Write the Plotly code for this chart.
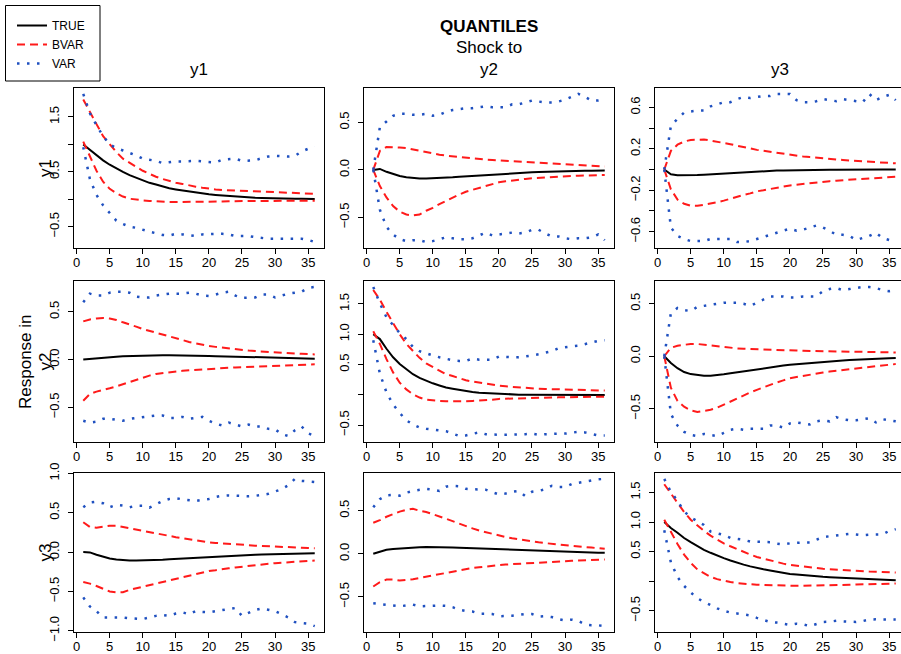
import plotly.graph_objects as go

# ---------------- data ----------------
horizon = list(range(1, 37))

# panel (row i = response, col j = shock)
true_11 = [1.00,0.90,0.80,0.71,0.63,0.56,0.50,0.44,0.39,0.34,0.30,0.27,0.23,0.20,0.18,0.16,0.14,0.12,0.10,0.09,0.08,0.07,0.06,0.05,0.04,0.035,0.03,0.025,0.02,0.018,0.015,0.012,0.01,0.01,0.008,0.007]
bvar_hi_11 = [1.82,1.58,1.37,1.15,1.00,0.86,0.74,0.66,0.59,0.52,0.46,0.41,0.37,0.33,0.30,0.28,0.25,0.23,0.21,0.19,0.18,0.17,0.165,0.155,0.15,0.145,0.14,0.135,0.13,0.13,0.12,0.115,0.11,0.105,0.10,0.10]
bvar_lo_11 = [1.05,0.79,0.52,0.32,0.19,0.11,0.05,0.01,-0.01,-0.02,-0.03,-0.04,-0.045,-0.05,-0.05,-0.05,-0.05,-0.045,-0.045,-0.04,-0.04,-0.04,-0.035,-0.035,-0.035,-0.03,-0.03,-0.03,-0.03,-0.03,-0.03,-0.03,-0.025,-0.025,-0.025,-0.025]
var_hi_11 = [1.92,1.57,1.35,1.15,1.00,0.93,0.89,0.85,0.80,0.74,0.72,0.70,0.66,0.68,0.69,0.69,0.70,0.70,0.69,0.68,0.67,0.72,0.73,0.74,0.70,0.70,0.71,0.75,0.78,0.79,0.78,0.78,0.79,0.87,0.92,0.96]
var_lo_11 = [0.95,0.37,0.08,-0.11,-0.25,-0.39,-0.45,-0.50,-0.52,-0.56,-0.59,-0.62,-0.65,-0.66,-0.63,-0.64,-0.65,-0.67,-0.64,-0.63,-0.63,-0.63,-0.64,-0.67,-0.67,-0.67,-0.69,-0.71,-0.72,-0.72,-0.72,-0.71,-0.71,-0.72,-0.74,-0.78]

true_12 = [0,0.01,-0.02,-0.045,-0.065,-0.078,-0.086,-0.09,-0.09,-0.089,-0.087,-0.083,-0.078,-0.073,-0.068,-0.063,-0.058,-0.053,-0.048,-0.044,-0.040,-0.036,-0.032,-0.029,-0.026,-0.023,-0.020,-0.018,-0.016,-0.014,-0.012,-0.010,-0.009,-0.008,-0.007,-0.006]
bvar_hi_12 = [0,0.20,0.24,0.24,0.235,0.23,0.215,0.20,0.185,0.17,0.16,0.15,0.142,0.134,0.127,0.12,0.114,0.108,0.104,0.10,0.095,0.09,0.085,0.08,0.075,0.071,0.067,0.063,0.059,0.055,0.052,0.049,0.045,0.042,0.038,0.035]
bvar_lo_12 = [0,-0.17,-0.29,-0.38,-0.44,-0.47,-0.48,-0.47,-0.43,-0.40,-0.36,-0.325,-0.29,-0.26,-0.23,-0.21,-0.19,-0.166,-0.15,-0.13,-0.12,-0.11,-0.10,-0.095,-0.088,-0.083,-0.078,-0.074,-0.07,-0.067,-0.064,-0.061,-0.059,-0.057,-0.055,-0.053]
var_hi_12 = [0,0.45,0.51,0.57,0.59,0.59,0.58,0.58,0.59,0.57,0.58,0.61,0.63,0.64,0.65,0.65,0.66,0.67,0.66,0.66,0.66,0.69,0.69,0.71,0.73,0.72,0.71,0.71,0.72,0.74,0.77,0.80,0.77,0.73,0.73,0.74]
var_lo_12 = [0,-0.42,-0.60,-0.68,-0.73,-0.75,-0.74,-0.74,-0.76,-0.75,-0.73,-0.71,-0.72,-0.73,-0.73,-0.72,-0.69,-0.66,-0.69,-0.68,-0.67,-0.66,-0.67,-0.66,-0.63,-0.63,-0.67,-0.70,-0.70,-0.72,-0.73,-0.72,-0.72,-0.71,-0.68,-0.74]

true_13 = [0,-0.045,-0.055,-0.056,-0.055,-0.052,-0.049,-0.045,-0.041,-0.036,-0.032,-0.028,-0.024,-0.021,-0.018,-0.015,-0.012,-0.01,-0.008,-0.006,-0.005,-0.004,-0.003,-0.002,-0.002,-0.001,-0.001,0,0,0,0,0,0,0,0,0]
bvar_hi_13 = [0,0.18,0.24,0.27,0.286,0.29,0.29,0.28,0.27,0.257,0.245,0.23,0.22,0.205,0.19,0.18,0.17,0.16,0.15,0.14,0.133,0.126,0.12,0.113,0.107,0.102,0.097,0.092,0.087,0.083,0.079,0.075,0.071,0.067,0.063,0.06]
bvar_lo_13 = [0,-0.19,-0.29,-0.33,-0.35,-0.35,-0.34,-0.33,-0.315,-0.30,-0.28,-0.26,-0.245,-0.23,-0.21,-0.2,-0.186,-0.175,-0.164,-0.153,-0.145,-0.138,-0.13,-0.124,-0.117,-0.112,-0.107,-0.103,-0.098,-0.094,-0.09,-0.086,-0.082,-0.078,-0.074,-0.07]
var_hi_13 = [0,0.42,0.49,0.55,0.56,0.57,0.57,0.61,0.63,0.65,0.65,0.68,0.70,0.69,0.70,0.71,0.71,0.73,0.73,0.73,0.67,0.65,0.65,0.66,0.68,0.67,0.66,0.68,0.67,0.66,0.65,0.73,0.67,0.70,0.72,0.67]
var_lo_13 = [0,-0.56,-0.64,-0.67,-0.69,-0.69,-0.69,-0.67,-0.67,-0.67,-0.67,-0.70,-0.70,-0.69,-0.67,-0.65,-0.63,-0.61,-0.59,-0.57,-0.59,-0.58,-0.56,-0.54,-0.56,-0.59,-0.63,-0.63,-0.64,-0.68,-0.66,-0.64,-0.61,-0.66,-0.68,-0.70]

true_21 = [0,0.007,0.014,0.02,0.025,0.03,0.034,0.037,0.04,0.042,0.043,0.044,0.045,0.045,0.045,0.044,0.043,0.042,0.04,0.038,0.036,0.034,0.032,0.03,0.028,0.026,0.024,0.022,0.02,0.018,0.016,0.014,0.013,0.012,0.011,0.01]
bvar_hi_21 = [0.40,0.42,0.43,0.435,0.43,0.415,0.39,0.37,0.345,0.32,0.30,0.285,0.265,0.245,0.225,0.205,0.185,0.17,0.155,0.143,0.133,0.124,0.115,0.107,0.10,0.094,0.089,0.084,0.079,0.075,0.071,0.067,0.063,0.06,0.057,0.054]
bvar_lo_21 = [-0.43,-0.36,-0.335,-0.32,-0.30,-0.28,-0.257,-0.23,-0.207,-0.186,-0.168,-0.15,-0.14,-0.132,-0.125,-0.118,-0.112,-0.107,-0.101,-0.096,-0.092,-0.089,-0.086,-0.082,-0.079,-0.076,-0.073,-0.07,-0.067,-0.064,-0.062,-0.06,-0.057,-0.055,-0.052,-0.05]
var_hi_21 = [0.60,0.69,0.67,0.67,0.70,0.71,0.71,0.70,0.66,0.65,0.65,0.67,0.68,0.69,0.69,0.69,0.70,0.69,0.67,0.665,0.68,0.70,0.71,0.67,0.645,0.645,0.65,0.68,0.68,0.65,0.67,0.69,0.70,0.71,0.75,0.76]
var_lo_21 = [-0.64,-0.66,-0.65,-0.62,-0.62,-0.63,-0.64,-0.62,-0.61,-0.60,-0.59,-0.585,-0.585,-0.61,-0.61,-0.60,-0.62,-0.61,-0.60,-0.64,-0.67,-0.69,-0.66,-0.68,-0.70,-0.68,-0.70,-0.70,-0.725,-0.73,-0.78,-0.80,-0.74,-0.70,-0.77,-0.80]

true_22 = [1.0,0.92,0.76,0.62,0.51,0.42,0.34,0.28,0.23,0.19,0.155,0.12,0.10,0.08,0.06,0.045,0.035,0.028,0.02,0.012,0.008,0.005,0.003,0.001,0,-0.001,-0.002,-0.003,-0.003,-0.004,-0.004,-0.004,-0.004,-0.004,-0.004,-0.004]
bvar_hi_22 = [1.73,1.57,1.37,1.18,1.0,0.84,0.72,0.61,0.52,0.46,0.40,0.34,0.31,0.27,0.24,0.22,0.20,0.18,0.165,0.15,0.14,0.13,0.12,0.11,0.105,0.10,0.097,0.094,0.092,0.09,0.087,0.084,0.081,0.078,0.074,0.07]
bvar_lo_22 = [1.05,0.84,0.59,0.37,0.20,0.09,0.01,-0.045,-0.08,-0.095,-0.10,-0.105,-0.107,-0.107,-0.105,-0.10,-0.097,-0.09,-0.08,-0.067,-0.063,-0.06,-0.056,-0.053,-0.05,-0.048,-0.046,-0.044,-0.042,-0.04,-0.038,-0.036,-0.034,-0.032,-0.031,-0.03]
var_hi_22 = [1.78,1.51,1.28,1.14,1.02,0.92,0.79,0.72,0.68,0.65,0.62,0.59,0.57,0.56,0.56,0.60,0.58,0.58,0.58,0.63,0.62,0.62,0.62,0.63,0.65,0.67,0.69,0.72,0.77,0.79,0.80,0.81,0.84,0.87,0.89,0.90]
var_lo_22 = [0.90,0.35,0.04,-0.16,-0.30,-0.42,-0.49,-0.54,-0.56,-0.57,-0.58,-0.60,-0.64,-0.68,-0.67,-0.65,-0.62,-0.65,-0.66,-0.66,-0.66,-0.66,-0.66,-0.65,-0.64,-0.66,-0.65,-0.64,-0.64,-0.64,-0.63,-0.61,-0.62,-0.64,-0.67,-0.67]

true_23 = [0,-0.065,-0.114,-0.15,-0.17,-0.18,-0.185,-0.185,-0.182,-0.172,-0.163,-0.153,-0.143,-0.133,-0.123,-0.114,-0.105,-0.097,-0.089,-0.081,-0.075,-0.069,-0.063,-0.057,-0.052,-0.048,-0.044,-0.040,-0.036,-0.032,-0.029,-0.026,-0.023,-0.021,-0.018,-0.016]
bvar_hi_23 = [0,0.08,0.10,0.11,0.117,0.117,0.11,0.10,0.092,0.084,0.079,0.075,0.071,0.068,0.065,0.063,0.061,0.059,0.057,0.055,0.054,0.052,0.051,0.05,0.049,0.048,0.046,0.045,0.043,0.042,0.041,0.04,0.039,0.038,0.037,0.036]
bvar_lo_23 = [0,-0.30,-0.425,-0.48,-0.515,-0.53,-0.52,-0.51,-0.49,-0.46,-0.43,-0.40,-0.37,-0.345,-0.32,-0.295,-0.27,-0.25,-0.23,-0.21,-0.198,-0.186,-0.175,-0.165,-0.155,-0.146,-0.138,-0.13,-0.122,-0.114,-0.107,-0.1,-0.094,-0.088,-0.081,-0.075]
var_hi_23 = [0,0.41,0.46,0.44,0.43,0.47,0.48,0.49,0.50,0.51,0.51,0.51,0.50,0.48,0.51,0.54,0.57,0.57,0.57,0.56,0.56,0.57,0.57,0.57,0.62,0.64,0.65,0.63,0.64,0.65,0.66,0.66,0.65,0.63,0.62,0.63]
var_lo_23 = [0,-0.55,-0.66,-0.72,-0.75,-0.76,-0.74,-0.75,-0.76,-0.73,-0.70,-0.69,-0.70,-0.69,-0.69,-0.69,-0.66,-0.66,-0.68,-0.64,-0.63,-0.64,-0.65,-0.62,-0.61,-0.62,-0.58,-0.60,-0.61,-0.61,-0.60,-0.59,-0.63,-0.60,-0.61,-0.62]

true_31 = [0,-0.004,-0.034,-0.06,-0.08,-0.094,-0.103,-0.107,-0.108,-0.107,-0.104,-0.1,-0.096,-0.091,-0.086,-0.081,-0.076,-0.07,-0.065,-0.06,-0.056,-0.052,-0.048,-0.044,-0.04,-0.037,-0.034,-0.031,-0.028,-0.025,-0.022,-0.02,-0.018,-0.016,-0.014,-0.013]
bvar_hi_31 = [0.38,0.32,0.31,0.32,0.335,0.335,0.32,0.30,0.287,0.274,0.257,0.24,0.223,0.206,0.19,0.175,0.162,0.15,0.137,0.124,0.117,0.11,0.103,0.097,0.09,0.086,0.082,0.078,0.073,0.068,0.065,0.062,0.059,0.056,0.053,0.05]
bvar_lo_31 = [-0.38,-0.40,-0.43,-0.47,-0.50,-0.51,-0.51,-0.48,-0.46,-0.44,-0.42,-0.40,-0.38,-0.36,-0.34,-0.32,-0.30,-0.28,-0.26,-0.24,-0.23,-0.215,-0.205,-0.195,-0.184,-0.175,-0.166,-0.157,-0.148,-0.14,-0.134,-0.128,-0.122,-0.117,-0.112,-0.107]
var_hi_31 = [0.57,0.63,0.64,0.62,0.57,0.60,0.59,0.57,0.59,0.59,0.565,0.61,0.65,0.675,0.685,0.67,0.66,0.65,0.665,0.675,0.70,0.715,0.72,0.715,0.71,0.71,0.715,0.725,0.74,0.77,0.80,0.85,0.93,0.905,0.895,0.89]
var_lo_31 = [-0.575,-0.69,-0.75,-0.83,-0.83,-0.83,-0.83,-0.84,-0.845,-0.85,-0.83,-0.81,-0.80,-0.81,-0.78,-0.765,-0.79,-0.75,-0.76,-0.765,-0.75,-0.735,-0.72,-0.71,-0.81,-0.77,-0.735,-0.715,-0.73,-0.75,-0.79,-0.83,-0.89,-0.90,-0.91,-0.94]

true_32 = [0,0.027,0.047,0.056,0.063,0.068,0.072,0.076,0.078,0.078,0.077,0.075,0.072,0.069,0.066,0.063,0.06,0.057,0.054,0.05,0.047,0.044,0.041,0.038,0.035,0.032,0.03,0.027,0.025,0.023,0.021,0.019,0.017,0.015,0.013,0.012]
bvar_hi_32 = [0.36,0.39,0.43,0.46,0.49,0.51,0.523,0.50,0.485,0.46,0.435,0.41,0.38,0.35,0.32,0.295,0.27,0.25,0.23,0.21,0.195,0.18,0.167,0.155,0.143,0.133,0.124,0.115,0.107,0.1,0.093,0.086,0.079,0.072,0.065,0.058]
bvar_lo_32 = [-0.38,-0.33,-0.30,-0.30,-0.31,-0.306,-0.295,-0.28,-0.265,-0.25,-0.233,-0.217,-0.202,-0.188,-0.174,-0.165,-0.156,-0.147,-0.138,-0.13,-0.125,-0.12,-0.115,-0.11,-0.105,-0.1,-0.096,-0.092,-0.088,-0.085,-0.082,-0.079,-0.076,-0.072,-0.069,-0.066]
var_hi_32 = [0.54,0.635,0.68,0.685,0.675,0.71,0.73,0.745,0.755,0.745,0.73,0.78,0.79,0.785,0.755,0.75,0.75,0.745,0.715,0.69,0.70,0.72,0.73,0.67,0.72,0.73,0.75,0.79,0.775,0.775,0.81,0.825,0.84,0.85,0.865,0.87]
var_lo_32 = [-0.575,-0.585,-0.59,-0.60,-0.61,-0.60,-0.59,-0.61,-0.605,-0.60,-0.60,-0.605,-0.62,-0.65,-0.665,-0.67,-0.695,-0.695,-0.70,-0.725,-0.725,-0.72,-0.71,-0.70,-0.70,-0.73,-0.725,-0.735,-0.76,-0.775,-0.765,-0.78,-0.82,-0.83,-0.83,-0.84]

true_33 = [1.0,0.90,0.82,0.73,0.66,0.59,0.53,0.48,0.43,0.39,0.35,0.31,0.28,0.25,0.22,0.20,0.18,0.157,0.14,0.123,0.112,0.10,0.09,0.081,0.073,0.066,0.06,0.054,0.049,0.045,0.04,0.036,0.032,0.026,0.021,0.017]
bvar_hi_33 = [1.64,1.48,1.32,1.17,1.04,0.94,0.85,0.77,0.70,0.64,0.59,0.54,0.49,0.45,0.41,0.38,0.35,0.32,0.297,0.275,0.26,0.245,0.232,0.22,0.21,0.202,0.194,0.186,0.178,0.17,0.166,0.162,0.158,0.154,0.15,0.146]
bvar_lo_33 = [1.04,0.83,0.63,0.45,0.31,0.20,0.13,0.073,0.035,0.006,-0.015,-0.034,-0.045,-0.053,-0.06,-0.065,-0.07,-0.073,-0.076,-0.078,-0.078,-0.078,-0.077,-0.075,-0.073,-0.07,-0.067,-0.064,-0.06,-0.056,-0.053,-0.05,-0.047,-0.045,-0.042,-0.04]
var_hi_33 = [1.73,1.51,1.36,1.18,1.08,1.01,0.95,0.84,0.81,0.78,0.73,0.72,0.70,0.67,0.67,0.67,0.66,0.635,0.62,0.64,0.65,0.655,0.655,0.70,0.745,0.76,0.77,0.785,0.80,0.79,0.775,0.785,0.79,0.79,0.85,0.88]
var_lo_33 = [0.86,0.32,0.07,-0.08,-0.19,-0.29,-0.35,-0.41,-0.46,-0.50,-0.53,-0.545,-0.56,-0.58,-0.62,-0.66,-0.69,-0.70,-0.72,-0.74,-0.72,-0.73,-0.76,-0.72,-0.69,-0.685,-0.67,-0.68,-0.69,-0.69,-0.675,-0.65,-0.645,-0.645,-0.65,-0.65]

# tick values / labels
x_ticks = [0, 5, 10, 15, 20, 25, 30, 35]
yt_11 = [-0.5, 0, 0.5, 1.0, 1.5];            yl_11 = ["−0.5", "", "0.5", "", "1.5"]
yt_12 = [-0.5, 0, 0.5];                      yl_12 = ["−0.5", "0.0", "0.5"]
yt_13 = [-0.6, -0.4, -0.2, 0, 0.2, 0.4, 0.6]; yl_13 = ["−0.6", "", "−0.2", "", "0.2", "", "0.6"]
yt_21 = [-0.5, 0, 0.5];                      yl_21 = ["−0.5", "0.0", "0.5"]
yt_22 = [-0.5, 0, 0.5, 1.0, 1.5];            yl_22 = ["−0.5", "", "0.5", "1.0", "1.5"]
yt_23 = [-0.5, 0, 0.5];                      yl_23 = ["−0.5", "0.0", "0.5"]
yt_31 = [-1.0, -0.5, 0, 0.5, 1.0];           yl_31 = ["−1.0", "−0.5", "0.0", "0.5", "1.0"]
yt_32 = [-0.5, 0, 0.5];                      yl_32 = ["−0.5", "0.0", "0.5"]
yt_33 = [-0.5, 0, 0.5, 1.0, 1.5];            yl_33 = ["−0.5", "", "0.5", "1.0", "1.5"]

col_titles = ["y1", "y2", "y3"]
row_titles = ["y1", "y2", "y3"]
series_names = ["TRUE", "BVAR", "VAR"]

# ---------------- figure ----------------
W, H = 901, 654
FONT = "Liberation Sans, Arial, Helvetica, sans-serif"
BLACK, RED, BLUE = "#000000", "#ff1a1a", "#1f50c0"

panels = [
    [(true_11, bvar_hi_11, bvar_lo_11, var_hi_11, var_lo_11, yt_11, yl_11),
     (true_12, bvar_hi_12, bvar_lo_12, var_hi_12, var_lo_12, yt_12, yl_12),
     (true_13, bvar_hi_13, bvar_lo_13, var_hi_13, var_lo_13, yt_13, yl_13)],
    [(true_21, bvar_hi_21, bvar_lo_21, var_hi_21, var_lo_21, yt_21, yl_21),
     (true_22, bvar_hi_22, bvar_lo_22, var_hi_22, var_lo_22, yt_22, yl_22),
     (true_23, bvar_hi_23, bvar_lo_23, var_hi_23, var_lo_23, yt_23, yl_23)],
    [(true_31, bvar_hi_31, bvar_lo_31, var_hi_31, var_lo_31, yt_31, yl_31),
     (true_32, bvar_hi_32, bvar_lo_32, var_hi_32, var_lo_32, yt_32, yl_32),
     (true_33, bvar_hi_33, bvar_lo_33, var_hi_33, var_lo_33, yt_33, yl_33)],
]

# panel boxes in pixels (left, right) and (top, bottom)
col_px = [(74, 324), (364, 614), (655, 901)]
row_px = [(88, 248), (281, 442), (473, 632)]
px_per_unit = 250 / 37.8
x_lo = -0.4

fig = go.Figure()
layout = {}
k = 0
for i in range(3):
    for j in range(3):
        k += 1
        tr, bh, bl, vh, vl, ytv, ytl = panels[i][j]
        xa = "x" if k == 1 else f"x{k}"
        ya = "y" if k == 1 else f"y{k}"
        first = (k == 1)
        fig.add_trace(go.Scatter(x=horizon, y=tr, mode="lines", name=series_names[0],
                                 line=dict(color=BLACK, width=2), xaxis=xa, yaxis=ya,
                                 legendgroup="t", showlegend=first))
        fig.add_trace(go.Scatter(x=horizon, y=bh, mode="lines", name=series_names[1],
                                 line=dict(color=RED, width=2, dash="8px,5px"), xaxis=xa, yaxis=ya,
                                 legendgroup="b", showlegend=first))
        fig.add_trace(go.Scatter(x=horizon, y=bl, mode="lines", name=series_names[1],
                                 line=dict(color=RED, width=2, dash="8px,5px"), xaxis=xa, yaxis=ya,
                                 legendgroup="b", showlegend=False))
        fig.add_trace(go.Scatter(x=horizon, y=vh, mode="lines", name=series_names[2],
                                 line=dict(color=BLUE, width=2.5, dash="2.5px,7.5px"), xaxis=xa, yaxis=ya,
                                 legendgroup="v", showlegend=first))
        fig.add_trace(go.Scatter(x=horizon, y=vl, mode="lines", name=series_names[2],
                                 line=dict(color=BLUE, width=2.5, dash="2.5px,7.5px"), xaxis=xa, yaxis=ya,
                                 legendgroup="v", showlegend=False))

        allv = tr + bh + bl + vh + vl
        lo, hi = min(allv), max(allv)
        pad = 0.04 * (hi - lo)
        l, r = col_px[j]
        t, b = row_px[i]
        x_hi = x_lo + (r - l) / px_per_unit
        axis_font = dict(family=FONT, size=13, color="black")
        layout["xaxis" if k == 1 else f"xaxis{k}"] = dict(
            domain=[l / W, r / W], anchor=ya, range=[x_lo, x_hi],
            tickvals=x_ticks, ticks="outside", ticklen=5, tickcolor="black",
            ticklabelstandoff=-3,
            showline=True, linecolor="black", linewidth=1, mirror=True,
            showgrid=False, zeroline=False, tickfont=axis_font, automargin=False)
        layout["yaxis" if k == 1 else f"yaxis{k}"] = dict(
            domain=[1 - b / H, 1 - t / H], anchor=xa, range=[lo - pad, hi + pad],
            tickvals=ytv, ticktext=ytl, ticks="outside", ticklen=5, tickcolor="black",
            tickangle=-90, ticklabelstandoff=4,
            showline=True, linecolor="black", linewidth=1, mirror=(j < 2),
            showgrid=False, zeroline=False, tickfont=axis_font, automargin=False)

ann = []
def add_text(text, px, py, size=17, angle=0):
    ann.append(dict(text=text, x=px / W, y=1 - py / H, xref="paper", yref="paper",
                    xanchor="center", yanchor="middle", showarrow=False, textangle=angle,
                    font=dict(family=FONT, size=size, color="black")))

add_text("<b>QUANTILES</b>", 489, 26)
add_text("Shock to", 489, 47)
for j in range(3):
    add_text(col_titles[j], col_px[j][0] + 125, 69)
for i in range(3):
    add_text(row_titles[i], 45, (row_px[i][0] + row_px[i][1]) / 2, angle=-90)
add_text("Response in", 25, 362, angle=-90)

# legend frame
legend_box = dict(type="rect", xref="paper", yref="paper",
                  x0=5.5 / W, x1=100 / W, y0=1 - 81 / H, y1=1 - 5.5 / H,
                  line=dict(color="black", width=1), fillcolor="rgba(0,0,0,0)")

fig.update_layout(
    width=W, height=H,
    margin=dict(l=0, r=0, t=0, b=0, pad=0, autoexpand=False),
    paper_bgcolor="white", plot_bgcolor="white",
    font=dict(family=FONT, color="black"),
    showlegend=True,
    legend=dict(x=12 / W, y=1 - 11 / H, xanchor="left", yanchor="top",
                borderwidth=0, bgcolor="rgba(0,0,0,0)",
                font=dict(family=FONT, size=12, color="black"),
                tracegroupgap=0, itemwidth=30),
    shapes=[legend_box],
    annotations=ann,
    **layout,
)

fig.write_html("out.html",
               config={"displayModeBar": False},
               post_script="document.body.style.margin='0px';document.body.style.overflow='hidden';")
